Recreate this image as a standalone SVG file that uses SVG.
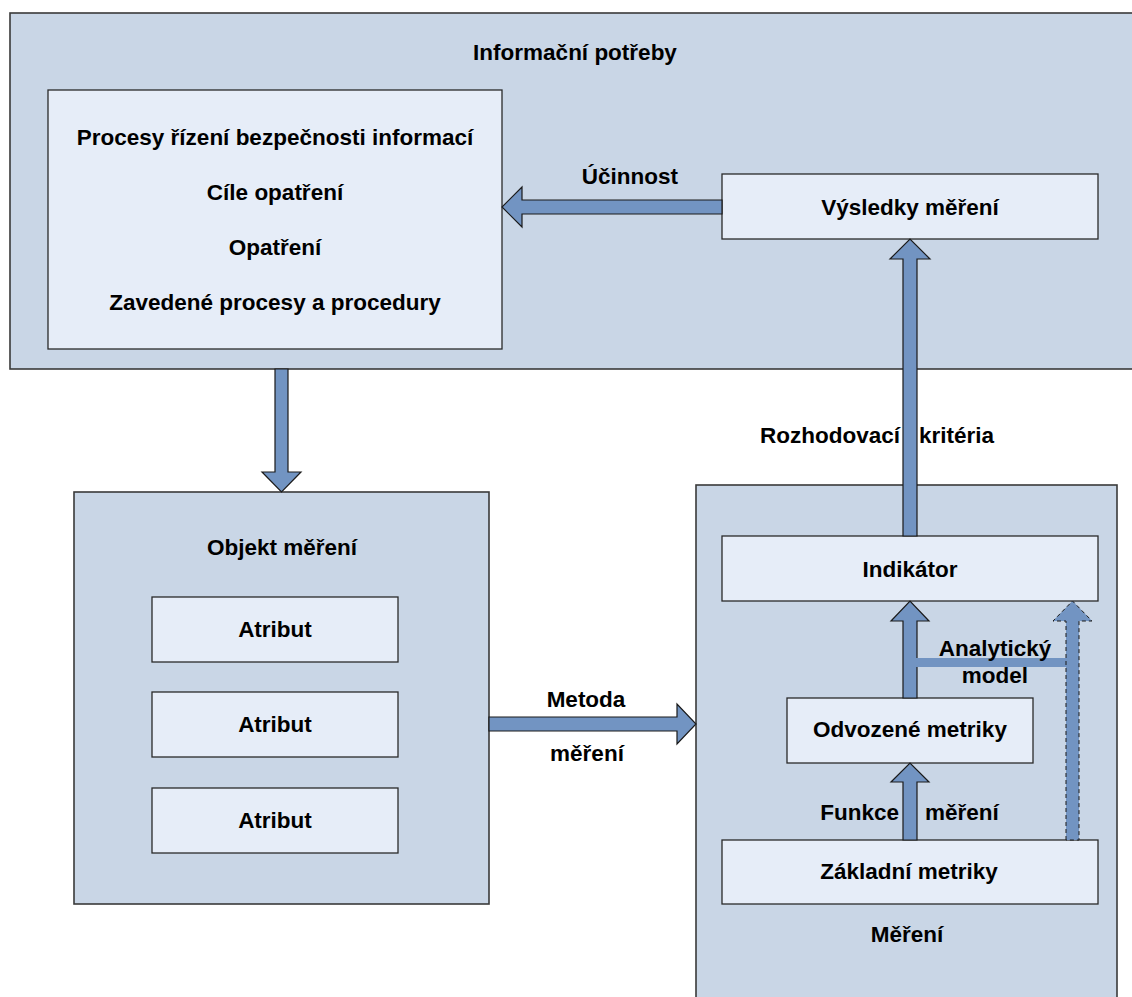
<svg xmlns="http://www.w3.org/2000/svg" width="1132" height="997" viewBox="0 0 1132 997">
  <style>
    .outer { fill: #C9D6E6; stroke: #3a3a3a; stroke-width: 1.6; }
    .inner { fill: #E6EDF8; stroke: #2a2a2a; stroke-width: 1.3; }
    .arrow { fill: #7294C2; stroke: #1a1a1a; stroke-width: 1.2; stroke-linejoin: miter; }
    .dashed { fill: #7294C2; stroke: #1a1a1a; stroke-width: 1; stroke-dasharray: 4 3; }
    .bar { fill: #7294C2; }
    text { font-family: "Liberation Sans", Arial, sans-serif; font-weight: bold; font-size: 22.5px; fill: #000; text-anchor: middle; }
    .l { text-anchor: start; }
    .r { text-anchor: end; }
  </style>
  <rect width="1132" height="997" fill="#ffffff"/>

  <!-- Information needs container -->
  <g id="informacni-potreby">
    <rect class="outer" x="10" y="13" width="1140" height="356"/>
    <text x="575" y="60">Informační potřeby</text>
  </g>

  <g id="procesy">
    <rect class="inner" x="48" y="90" width="454" height="259"/>
    <text x="275" y="145">Procesy řízení bezpečnosti informací</text>
    <text x="275" y="200">Cíle opatření</text>
    <text x="275" y="255">Opatření</text>
    <text x="275" y="310">Zavedené procesy a procedury</text>
  </g>

  <g id="vysledky">
    <rect class="inner" x="722" y="174" width="376" height="65"/>
    <text x="910" y="215">Výsledky měření</text>
  </g>

  <!-- Object of measurement -->
  <g id="objekt">
    <rect class="outer" x="74" y="492" width="415" height="412"/>
    <text x="282" y="555">Objekt měření</text>
  </g>
  <g id="atribut-1">
    <rect class="inner" x="152" y="597" width="246" height="65"/>
    <text x="275" y="637">Atribut</text>
  </g>
  <g id="atribut-2">
    <rect class="inner" x="152" y="692" width="246" height="65"/>
    <text x="275" y="732">Atribut</text>
  </g>
  <g id="atribut-3">
    <rect class="inner" x="152" y="788" width="246" height="65"/>
    <text x="275" y="828">Atribut</text>
  </g>

  <!-- Measurement -->
  <g id="mereni">
    <rect class="outer" x="696" y="485" width="421" height="530"/>
    <text x="907" y="942">Měření</text>
  </g>
  <g id="indikator">
    <rect class="inner" x="722" y="536" width="376" height="65"/>
    <text x="910" y="577">Indikátor</text>
  </g>
  <g id="odvozene">
    <rect class="inner" x="787" y="698" width="246" height="65"/>
    <text x="910" y="737">Odvozené metriky</text>
  </g>
  <g id="zakladni">
    <rect class="inner" x="722" y="840" width="376" height="64"/>
    <text x="909" y="879">Základní metriky</text>
  </g>

  <!-- Connectors -->
  <g id="connectors">
    <!-- Účinnost -->
    <polygon class="arrow" points="722,200 522,200 522,187 502,207 522,227 522,214 722,214"/>
    <text x="630" y="184">Účinnost</text>

    <!-- Rozhodovací kritéria -->
    <polygon class="arrow" points="903,536 903,259 890,259 910,239 930,259 917,259 917,536"/>
    <text y="443"><tspan class="r" x="900" text-anchor="end">Rozhodovací</tspan><tspan x="919" text-anchor="start">kritéria</tspan></text>

    <!-- Needs to object -->
    <polygon class="arrow" points="275,369 275,472 262,472 281.5,492 301,472 288,472 288,369"/>

    <!-- Metoda měření -->
    <polygon class="arrow" points="489,717 677,717 677,704 696,724 677,744 677,731 489,731"/>
    <text x="586" y="707">Metoda</text>
    <text x="587" y="761">měření</text>

    <!-- Derived metrics to indicator -->
    <polygon class="arrow" points="903,698 903,621 891,621 910,601 929,621 917,621 917,698"/>

    <!-- Analytical model -->
    <rect class="bar" x="916" y="658" width="151" height="9"/>
    <polygon class="dashed" points="1066,840 1066,621 1053,621 1072.5,601 1092,621 1079,621 1079,840"/>
    <text x="995" y="656">Analytický</text>
    <text x="995" y="683">model</text>

    <!-- Funkce měření -->
    <polygon class="arrow" points="903,840 903,782 891,782 910,763 929,782 917,782 917,840"/>
    <text y="820"><tspan x="899" text-anchor="end">Funkce</tspan><tspan x="925" text-anchor="start">měření</tspan></text>
  </g>
</svg>
